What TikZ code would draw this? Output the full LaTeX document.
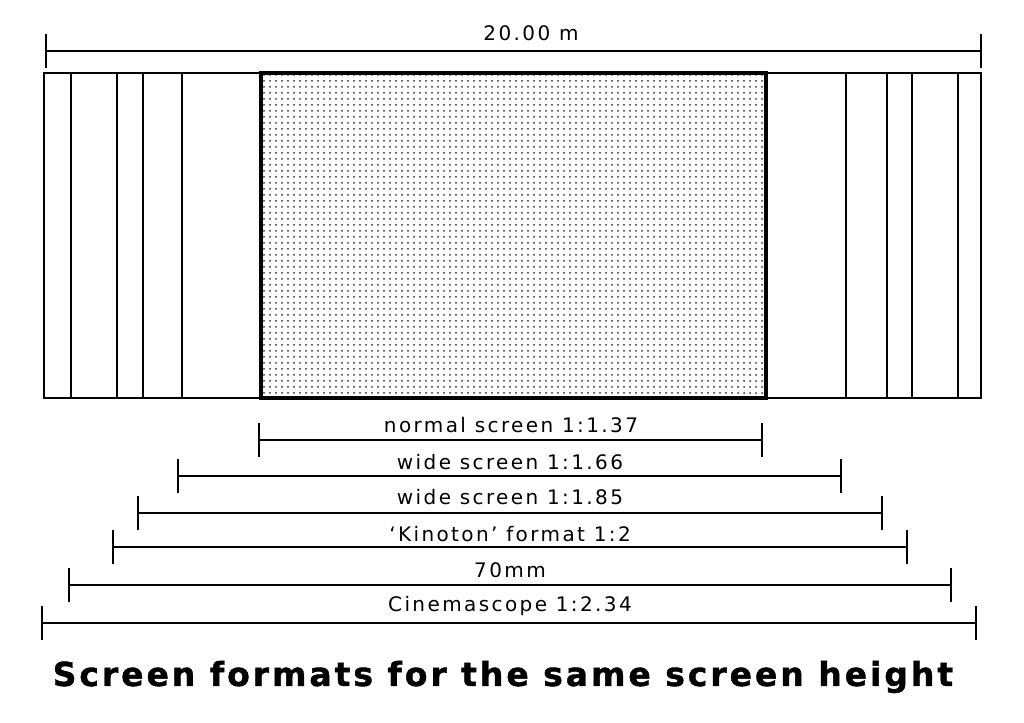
\documentclass[tikz,border=0pt]{standalone}
\usepackage{fontspec}
\setmainfont{DejaVu Sans}
\newfontfamily\lblfont[LetterSpace=12]{DejaVu Sans}
\newfontfamily\ttlfont[LetterSpace=9,FakeBold=1.2]{DejaVu Sans Bold}
\usetikzlibrary{positioning}
\usetikzlibrary{patterns}
\usetikzlibrary{arrows.meta}

\begin{document}
\begin{tikzpicture}[x=0.5pt, y=-0.5pt,
		dimline/.style={black, line width=0.8pt, {Bar[width=17pt]}-{Bar[width=17pt]}},
		dimlabel/.style={font=\lblfont\fontsize{10}{12}\selectfont, inner sep=0pt},
		panel/.style={black, line width=1pt}]
			\useasboundingbox (0, 0) rectangle (1024, 723);
			\fill[white] (0, 0) rectangle (1024, 723);
			\draw[dimline] (45, 51) coordinate (w-l)--(982, 51) coordinate (w-r);
			\node[dimlabel] (w-lbl) at (531, 33) {20.00 m};
			\draw[panel] (44, 73) rectangle (981, 398);
			\foreach \x in {71, 117, 143, 182, 846, 887, 912, 958}
				\draw[panel] (\x, 73)--(\x, 398);
			\draw[black, line width=1.6pt, pattern=dots, pattern color=black!80] (261, 73) rectangle (766, 398);
			\coordinate (n-l) at (258, 440);
			\coordinate (n-r) at (763, 440);
			\draw[dimline] (n-l)--(n-r);
			\node[dimlabel] (n-lbl) at (511, 425) {normal screen 1:1.37};
			\coordinate (a-l) at (177, 476);
			\coordinate (a-r) at (842, 476);
			\draw[dimline] (a-l)--(a-r);
			\node[dimlabel] (a-lbl) at (510, 462) {wide screen 1:1.66};
			\coordinate (b-l) at (137, 513);
			\coordinate (b-r) at (883, 513);
			\draw[dimline] (b-l)--(b-r);
			\node[dimlabel] (b-lbl) at (510, 497) {wide screen 1:1.85};
			\coordinate (k-l) at (112, 547);
			\coordinate (k-r) at (908, 547);
			\draw[dimline] (k-l)--(k-r);
			\node[dimlabel] (k-lbl) at (510, 534) {‘Kinoton’ format 1:2};
			\coordinate (s-l) at (68, 585);
			\coordinate (s-r) at (952, 585);
			\draw[dimline] (s-l)--(s-r);
			\node[dimlabel] (s-lbl) at (510, 570) {70mm};
			\coordinate (c-l) at (41, 623);
			\coordinate (c-r) at (977, 623);
			\draw[dimline] (c-l)--(c-r);
			\node[dimlabel] (c-lbl) at (510, 606) {Cinemascope 1:2.34};
			\node[font=\ttlfont\fontsize{16.5}{20}\selectfont, inner sep=0pt] (title) at (503, 677) {Screen formats for the same screen height};
		\end{tikzpicture}
\end{document}
